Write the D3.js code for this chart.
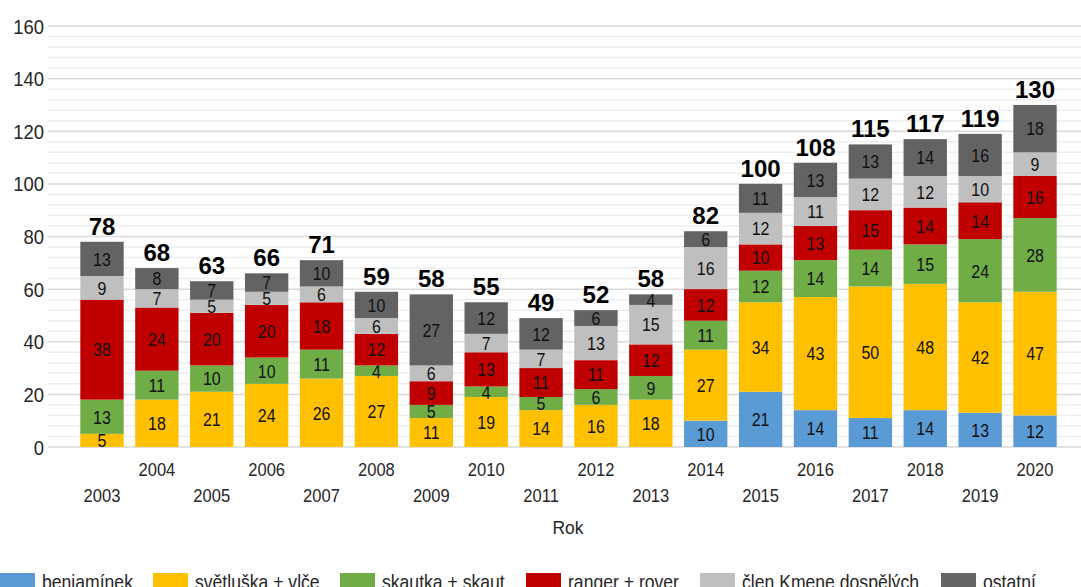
<!DOCTYPE html>
<html><head><meta charset="utf-8">
<script src="https://cdn.jsdelivr.net/npm/d3@7"></script>
<style>
body{margin:0;background:#fff;}
svg{display:block;}
text{font-family:"Liberation Sans",Arial,sans-serif;}
</style></head><body>
<svg id="c" width="1081" height="587"></svg>
<script>
const years = ["2003","2004","2005","2006","2007","2008","2009","2010","2011","2012","2013","2014","2015","2016","2017","2018","2019","2020"];
const seriesNames = ["benjamínek","světluška + vlče","skautka + skaut","ranger + rover","člen Kmene dospělých","ostatní"];
const benjaminek = [0,0,0,0,0,0,0,0,0,0,0,10,21,14,11,14,13,12];
const svetluska  = [5,18,21,24,26,27,11,19,14,16,18,27,34,43,50,48,42,47];
const skautka    = [13,11,10,10,11,4,5,4,5,6,9,11,12,14,14,15,24,28];
const ranger     = [38,24,20,20,18,12,9,13,11,11,12,12,10,13,15,14,14,16];
const clenKmene  = [9,7,5,5,6,6,6,7,7,13,15,16,12,11,12,12,10,9];
const ostatni    = [13,8,7,7,10,10,27,12,12,6,4,6,11,13,13,14,16,18];
const yTicks = [0,20,40,60,80,100,120,140,160];
const colors = ["#5b9bd5","#ffc000","#70ad47","#c00000","#bfbfbf","#636363"];

const seriesVals = [benjaminek,svetluska,skautka,ranger,clenKmene,ostatni];
const table = years.map((yr,i)=>{const o={year:yr}; seriesNames.forEach((s,k)=>o[s]=seriesVals[k][i]); return o;});
const stacked = d3.stack().keys(seriesNames)(table);

const svg = d3.select("#c");
const y = d3.scaleLinear().domain([0,160]).range([447,26]);
const x = d3.scaleBand().domain(years).range([74.55,1062.45]).paddingInner(0.21).paddingOuter(0.105);

// place text with a horizontal squeeze (narrow look)
function place(sel, fx, fy, sx){
  sel.attr("transform",(d,i)=>`translate(${fx(d,i)},${fy(d,i)}) scale(${sx},1)`);
  return sel;
}

// minor gridlines
const minor = d3.range(0,161,4).filter(v=>v%20!==0);
svg.append("g").selectAll("line").data(minor).join("line")
  .attr("x1",48).attr("x2",1081).attr("y1",d=>y(d)).attr("y2",d=>y(d))
  .attr("stroke","#eeeeee").attr("stroke-width",1.5);
svg.append("g").selectAll("line").data(yTicks).join("line")
  .attr("x1",48).attr("x2",1081).attr("y1",d=>y(d)).attr("y2",d=>y(d))
  .attr("stroke","#d9d9d9").attr("stroke-width",1.5);

// y labels
place(svg.append("g").selectAll("text").data(yTicks).join("text")
  .attr("dy","0.36em").attr("text-anchor","end")
  .attr("font-size",21).attr("fill","#262626").text(d=>d), d=>44, d=>y(d), 0.88);

// bars
const g = svg.append("g");
stacked.forEach((layer,k)=>{
  const data = layer.filter(d=>d[1]-d[0]>0);
  g.append("g").selectAll("rect").data(data).join("rect")
    .attr("x",d=>x(d.data.year)).attr("width",x.bandwidth())
    .attr("y",d=>y(d[1])).attr("height",d=>y(d[0])-y(d[1]))
    .attr("fill",colors[k]);
  place(g.append("g").selectAll("text").data(data).join("text")
    .attr("dy","0.36em")
    .attr("text-anchor","middle").attr("font-size",19).attr("fill","#111")
    .text(d=>d[1]-d[0]),
    d=>x(d.data.year)+x.bandwidth()/2, d=>(y(d[0])+y(d[1]))/2, 0.84);
});

// totals
const totals = table.map((d,i)=>({year:d.year,total:d3.sum(seriesVals,s=>s[i])}));
svg.append("g").selectAll("text").data(totals).join("text")
  .attr("x",d=>x(d.year)+x.bandwidth()/2).attr("y",d=>y(d.total)-7)
  .attr("text-anchor","middle").attr("font-size",24).attr("font-weight","bold")
  .attr("fill","#000").text(d=>d.total);

// x labels
place(svg.append("g").selectAll("text").data(years).join("text")
  .attr("dy","0.36em")
  .attr("text-anchor","middle").attr("font-size",18).attr("fill","#262626").text(d=>d),
  d=>x(d)+x.bandwidth()/2, (d,i)=>i%2===1?470:496, 0.92);

place(svg.append("text").datum("Rok").attr("dy","0.36em").attr("text-anchor","middle")
  .attr("font-size",19).attr("fill","#262626").text("Rok"), ()=>568, ()=>527, 0.92);

// legend
const legX = [0,153,340,526,700,941];
const lg = svg.append("g").selectAll("g").data(seriesNames).join("g")
  .attr("transform",(d,i)=>`translate(${legX[i]},573)`);
lg.append("rect").attr("width",35).attr("height",15).attr("fill",(d,i)=>colors[i]);
place(lg.append("text").attr("font-size",20).attr("fill","#262626").text(d=>d), ()=>42, ()=>16, 0.88);
</script>
</body></html>
